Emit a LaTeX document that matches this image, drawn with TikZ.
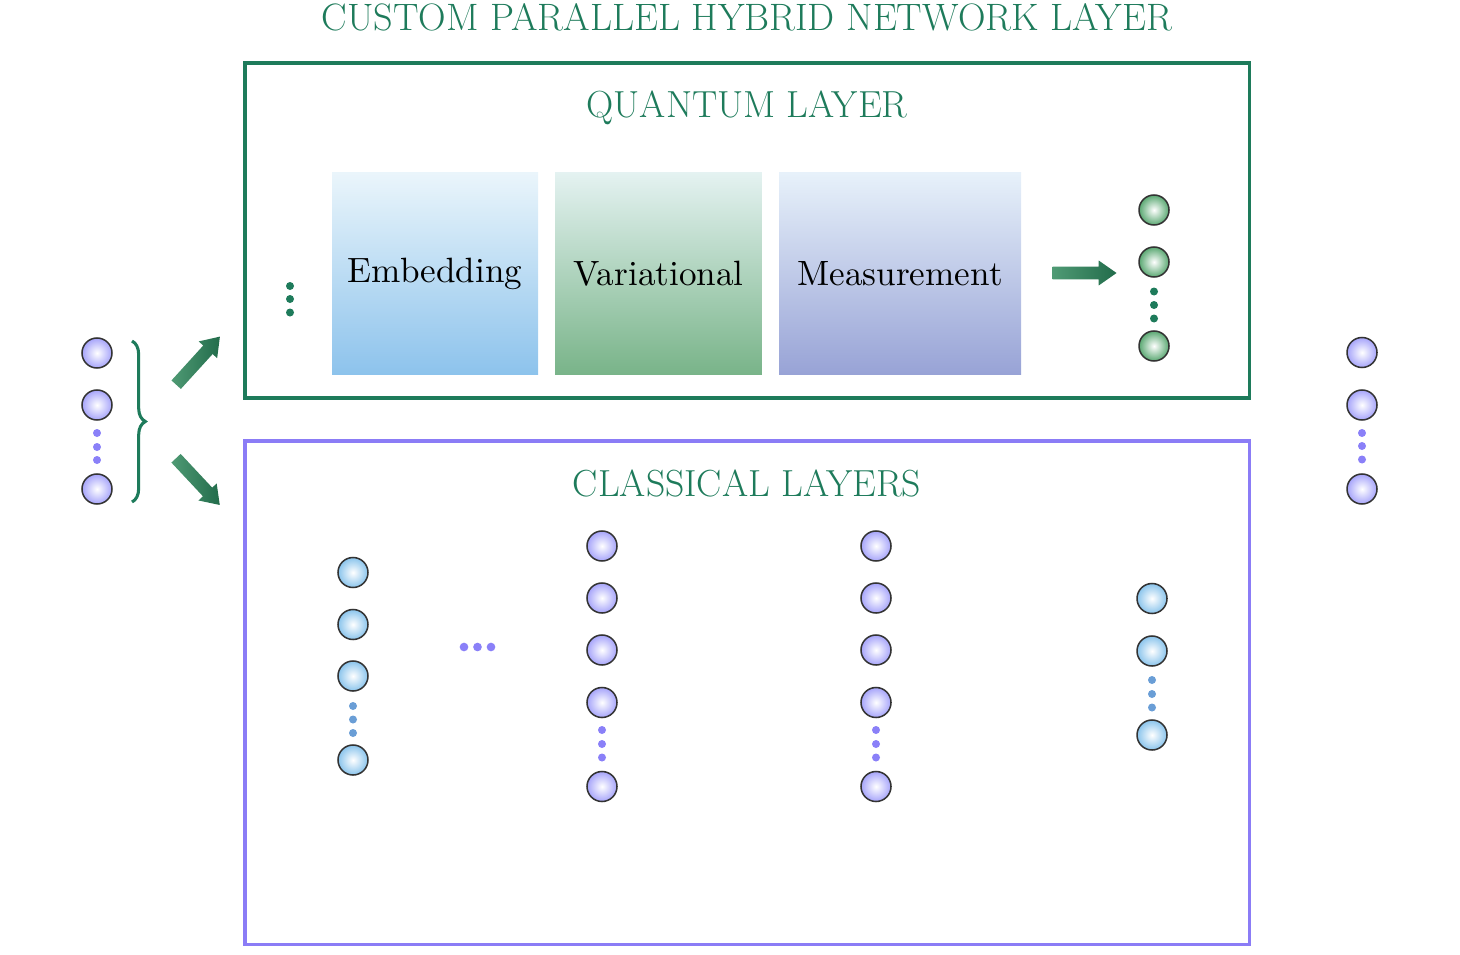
\documentclass[tikz,border=0pt]{standalone}
\usepackage{tikz}
\usetikzlibrary{shapes.arrows,decorations.pathreplacing,positioning}
\definecolor{qgreen}{HTML}{1E7B5B}
\definecolor{cpurple}{HTML}{8B7CF6}
\definecolor{npurple}{HTML}{A6A4FA}
\definecolor{nblue}{HTML}{8AC4EC}
\definecolor{ngreen}{HTML}{5AA872}
\definecolor{dpurple}{HTML}{8A80F8}
\definecolor{dblue}{HTML}{6A9ED6}
\definecolor{fatdark}{HTML}{226C4B}
\definecolor{fatlight}{HTML}{4F9A74}
\definecolor{embtop}{HTML}{EAF5FB}
\definecolor{embbot}{HTML}{8DC3EC}
\definecolor{vartop}{HTML}{E4F2F1}
\definecolor{varbot}{HTML}{79B489}
\definecolor{meastop}{HTML}{E7F1FA}
\definecolor{measbot}{HTML}{98A3D6}

\begin{document}
\begin{tikzpicture}[
  x=0.015cm, y=-0.015cm,
  neuron/.style={circle, draw=black!80, line width=0.65pt, minimum size=0.45cm,
    inner sep=0pt, inner color=white, outer color=#1},
  neuron/.default=npurple,
  frame/.style={draw=#1, line width=1.3pt, minimum width=15.06cm, inner sep=0pt},
  block/.style={minimum height=3.015cm, inner sep=0pt, text=black},
  heading/.style={text=qgreen, font=\fontsize{16.1}{20}\selectfont, anchor=base},
  fat/.style={single arrow, draw=none, minimum height=#1, inner xsep=0pt,
    inner ysep=0.088cm, single arrow head extend=0.092cm, single arrow tip angle=70,
    left color=fatlight, right color=fatdark}
]
\useasboundingbox (0,0) rectangle (1460,954);

% titles and frames
\node[heading, font=\fontsize{16.3}{20}\selectfont] (title) at (747,30.5) {CUSTOM PARALLEL HYBRID NETWORK LAYER};
\node[frame=qgreen, minimum height=5.025cm] (qbox) at (747,230.5) {};
\node[frame=cpurple, minimum height=7.545cm] (cbox) at (747,692.5) {};
\node[heading] (qtitle) at (747,117) {QUANTUM LAYER};
\node[heading] (ctitle) at (747,496) {CLASSICAL LAYERS};

% input neurons
\foreach \y [count=\i] in {353,405} \node[neuron] (in\i) at (97,\y) {};
\node[neuron] (in3) at (97,489) {};
\foreach \y in {433,447,460} \fill[dpurple] (97,\y) circle (0.06cm);
\coordinate (bt) at (132,341);
\coordinate (bb) at (132,502);
\draw[qgreen, line width=1.3pt, decorate, decoration={brace, amplitude=0.2cm}] (bt) -- (bb);
\node[fat=0.975cm, rotate=47.7] (up) at (195,364) {};
\node[fat=0.96cm, rotate=-46.9] (down) at (194.8,478.3) {};

% quantum layer
\foreach \y in {286,299,312.5} \fill[qgreen] (290,\y) circle (0.06cm);
\node[block, minimum width=3.09cm, top color=embtop, bottom color=embbot] (emb) at (435,273.5)
  {\scalebox{1.5}{Embedding}};
\node[block, minimum width=3.1cm, top color=vartop, bottom color=varbot] (var) at (658.5,273.5)
  {\scalebox{1.5}{Variational}};
\node[block, minimum width=3.63cm, top color=meastop, bottom color=measbot] (meas) at (900,273.5)
  {\scalebox{1.5}{Measurement}};
\node[fat=0.96cm] (qarr) at (1080,273) {};
\foreach \y [count=\i] in {210,262} \node[neuron=ngreen] (q\i) at (1154,\y) {};
\node[neuron=ngreen] (q3) at (1154,346) {};
\foreach \y in {291.5,305,318.5} \fill[qgreen] (1154,\y) circle (0.06cm);

% classical layers
\foreach \y [count=\i] in {572.5,624.5,676} \node[neuron=nblue] (a\i) at (353,\y) {};
\node[neuron=nblue] (a4) at (353,760) {};
\foreach \y in {706,719.5,733} \fill[dblue] (353,\y) circle (0.06cm);
\foreach \x in {464,477.5,491} \fill[dpurple] (\x,647) circle (0.065cm);
\foreach \x/\c in {602/b,876/c} {
  \foreach \y [count=\i] in {546,598,650,702.5} \node[neuron] (\c\i) at (\x,\y) {};
  \node[neuron] (\c5) at (\x,786.5) {};
  \foreach \y in {730,744,757.5} \fill[dpurple] (\x,\y) circle (0.06cm);
}
\foreach \y [count=\i] in {598.5,651} \node[neuron=nblue] (d\i) at (1152,\y) {};
\node[neuron=nblue] (d3) at (1152,735) {};
\foreach \y in {680,694,707.5} \fill[dblue] (1152,\y) circle (0.06cm);

% output neurons
\foreach \y [count=\i] in {352.5,405} \node[neuron] (out\i) at (1362,\y) {};
\node[neuron] (out3) at (1362,489) {};
\foreach \y in {433,446,459.5} \fill[dpurple] (1362,\y) circle (0.06cm);
\end{tikzpicture}
\end{document}
